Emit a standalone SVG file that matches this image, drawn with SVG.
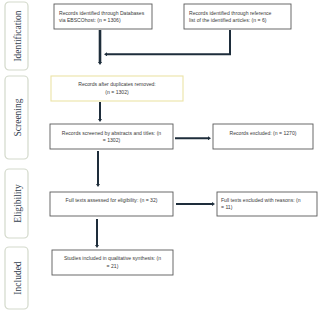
<svg xmlns="http://www.w3.org/2000/svg" width="320" height="312" viewBox="0 0 320 312">
<defs>
<marker id="ah" markerWidth="3" markerHeight="4" refX="1" refY="2" orient="auto" markerUnits="userSpaceOnUse">
<path d="M0,0 L3,2 L0,4 Z" fill="#1e2d3b"/>
</marker>
<style>
.side{fill:#ffffff;stroke:#d3d9cb;stroke-width:1.2}
.slab{font-family:"Liberation Serif",serif;font-size:9.5px;fill:#33404f;text-anchor:middle}
.box{fill:#ffffff;stroke:#5a5a5a;stroke-width:0.9}
.ybox{fill:#ffffff;stroke:#ece3a6;stroke-width:1.1}
.t{font-family:"Liberation Sans",Arial,sans-serif;font-size:5.1px;fill:#3a3a3a}
.c{text-anchor:middle}
.ln{fill:none;stroke:#1e2d3b;stroke-width:2}
.thick{stroke-width:2.6}
</style>
</defs>
<rect width="320" height="312" fill="#ffffff"/>
<g id="phase-identification">
<rect class="side" x="5" y="2" width="23" height="68" rx="4"/>
<text class="slab" transform="translate(20.5,36) rotate(-90)">Identification</text>
</g>
<g id="phase-screening">
<rect class="side" x="5" y="76" width="23" height="83" rx="4"/>
<text class="slab" transform="translate(20.5,117.5) rotate(-90)">Screening</text>
</g>
<g id="phase-eligibility">
<rect class="side" x="5" y="169" width="23" height="69" rx="4"/>
<text class="slab" transform="translate(20.5,203.5) rotate(-90)">Eligibility</text>
</g>
<g id="phase-included">
<rect class="side" x="5" y="247" width="23" height="62" rx="4"/>
<text class="slab" transform="translate(20.5,278) rotate(-90)">Included</text>
</g>
<g id="connectors">
<line class="ln thick" x1="100" y1="30" x2="100" y2="63" marker-end="url(#ah)"/>
<polyline class="ln" points="230,30 230,54.3 106,54.3" marker-end="url(#ah)"/>
<line class="ln" x1="100" y1="102" x2="100" y2="120" marker-end="url(#ah)"/>
<line class="ln" x1="175" y1="138.3" x2="209" y2="138.3" marker-end="url(#ah)"/>
<line class="ln" x1="98" y1="151" x2="98" y2="185" marker-end="url(#ah)"/>
<line class="ln" x1="176" y1="204" x2="213" y2="204" marker-end="url(#ah)"/>
<line class="ln" x1="97" y1="219" x2="97" y2="246" marker-end="url(#ah)"/>
</g>
<g id="node-databases">
<rect class="box" x="54" y="4" width="98" height="25"/>
<text class="t" x="59" y="15">Records identified through Databases</text>
<text class="t" x="59" y="22">via EBSCOhost: (n = 1306)</text>
</g>
<g id="node-reference">
<rect class="box" x="184" y="4" width="107" height="25"/>
<text class="t" x="189" y="15">Records identified through reference</text>
<text class="t" x="189" y="22">list of the identified articles: (n = 6)</text>
</g>
<g id="node-duplicates">
<rect class="ybox" x="51" y="76" width="132" height="25"/>
<text class="t c" x="117" y="86">Records after duplicates removed:</text>
<text class="t c" x="117" y="93.5">(n = 1302)</text>
</g>
<g id="node-screened">
<rect class="box" x="50" y="124" width="123" height="25"/>
<text class="t c" x="111.5" y="134.5">Records screened by abstracts and titles: (n</text>
<text class="t c" x="111.5" y="142">= 1302)</text>
</g>
<g id="node-excluded">
<rect class="box" x="213" y="124" width="100" height="25"/>
<text class="t c" x="263" y="134.5">Records excluded: (n = 1270)</text>
</g>
<g id="node-fulltext">
<rect class="box" x="50" y="192" width="123" height="24"/>
<text class="t c" x="111.5" y="201.5">Full texts assessed for eligibility: (n = 32)</text>
</g>
<g id="node-fulltext-excluded">
<rect class="box" x="217" y="192" width="100" height="24"/>
<text class="t" x="221" y="201.5">Full texts excluded with reasons: (n</text>
<text class="t" x="221" y="209">= 11)</text>
</g>
<g id="node-included">
<rect class="box" x="52" y="250" width="121" height="25"/>
<text class="t c" x="112.5" y="260">Studies included in qualitative synthesis: (n</text>
<text class="t c" x="112.5" y="267.5">= 21)</text>
</g>
</svg>
